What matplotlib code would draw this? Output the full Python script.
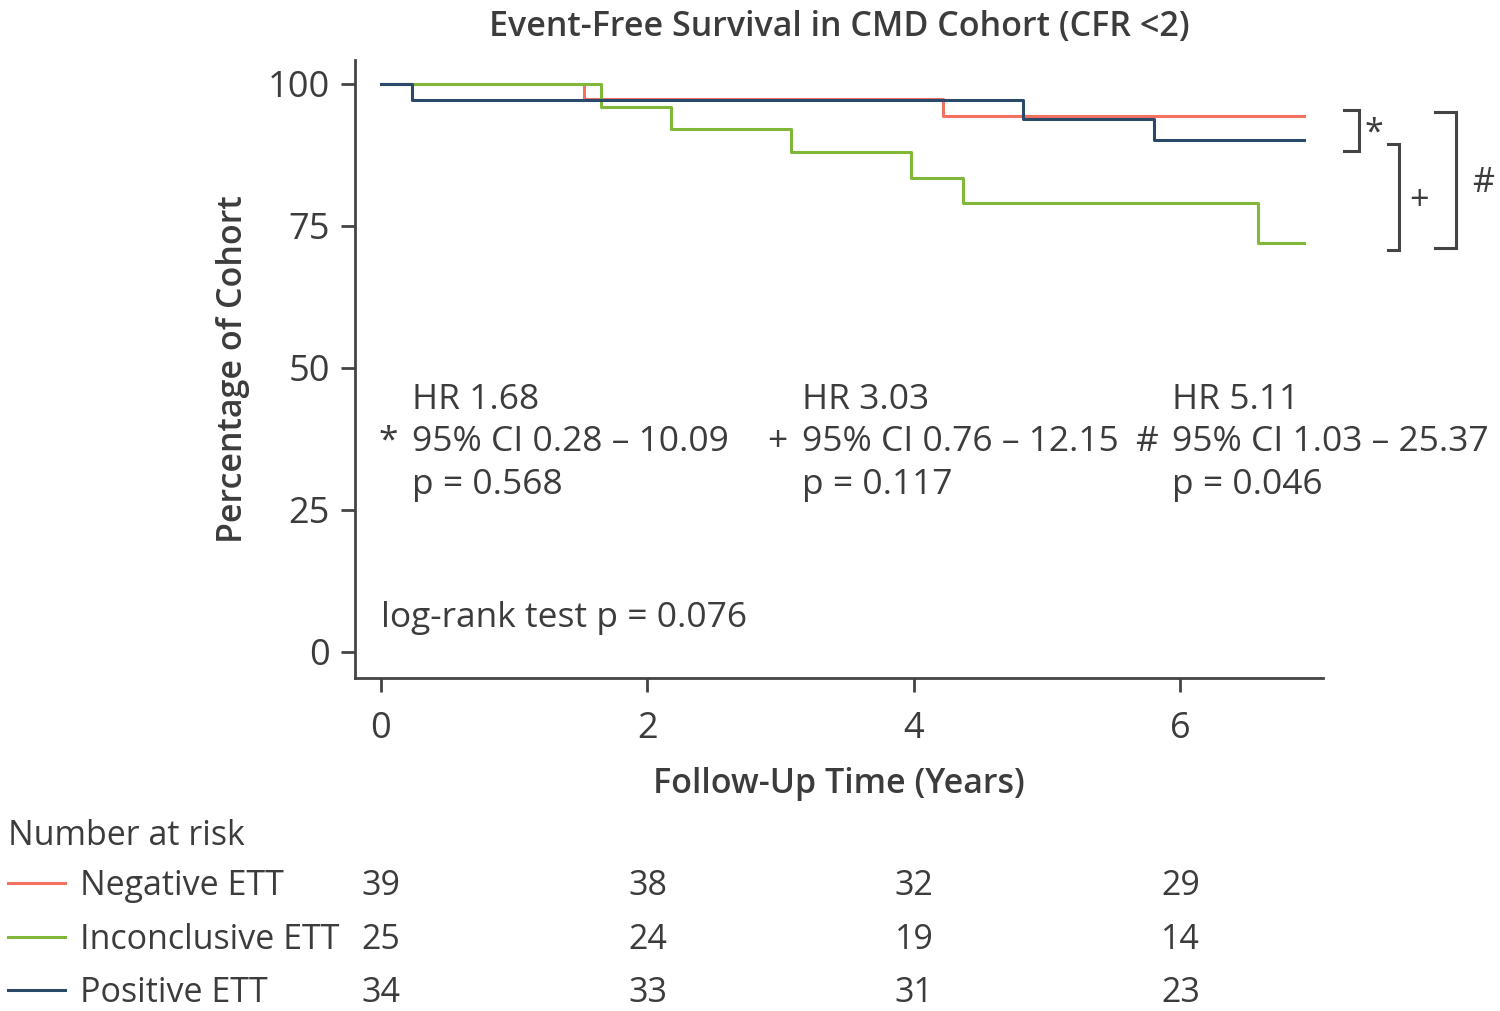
import matplotlib
matplotlib.use("Agg")
import matplotlib.pyplot as plt

plt.rcParams['font.family'] = ['Open Sans', 'DejaVu Sans']

# step curves (time in years, survival %)
neg_t = [0, 1.52, 4.22, 6.93]
neg_s = [100, 97.4, 94.4, 94.4]
inc_t = [0, 1.65, 2.18, 3.08, 3.98, 4.37, 6.58, 6.93]
inc_s = [100, 96.0, 92.0, 88.0, 83.4, 79.0, 72.0, 72.0]
pos_t = [0, 0.23, 4.82, 5.80, 6.93]
pos_s = [100, 97.1, 93.8, 90.2, 90.2]

groups = ['Negative ETT', 'Inconclusive ETT', 'Positive ETT']
colors = ['#f4715f', '#82b83a', '#2b4a6b']
risk_times = [0, 2, 4, 6]
risk_neg = [39, 38, 32, 29]
risk_inc = [25, 24, 19, 14]
risk_pos = [34, 33, 31, 23]

hr_labels = ['HR 1.68', 'HR 3.03', 'HR 5.11']
ci_labels = ['95% CI 0.28 – 10.09', '95% CI 0.76 – 12.15', '95% CI 1.03 – 25.37']
p_labels = ['p = 0.568', 'p = 0.117', 'p = 0.046']
marks = ['*', '+', '#']

txt = '#3c3c3c'
fs = 24.5
fs_hr = 25.5

fig = plt.figure(figsize=(15, 10.11), dpi=100)
ax = fig.add_axes([355/1500, 333/1011, 968/1500, 618/1011])

ax.step(neg_t, neg_s, where='post', color=colors[0], lw=2.2)
ax.step(inc_t, inc_s, where='post', color=colors[1], lw=2.2)
ax.step(pos_t, pos_s, where='post', color=colors[2], lw=2.2)

ax.set_xlim(-0.195, 7.07)
ax.set_ylim(-4.6, 104.2)
ax.set_xticks([0, 2, 4, 6])
ax.set_yticks([0, 25, 50, 75, 100])
for s in ['top', 'right']:
    ax.spines[s].set_visible(False)
for s in ['left', 'bottom']:
    ax.spines[s].set_color('#444444')
    ax.spines[s].set_linewidth(2)
ax.tick_params(length=10, width=2, color='#444444', labelsize=26, labelcolor=txt)
ax.tick_params(axis='x', pad=14)
ax.tick_params(axis='y', pad=8)

ax.set_title('Event-Free Survival in CMD Cohort (CFR <2)', fontsize=fs, color=txt,
             fontweight='semibold', pad=17)
ax.set_ylabel('Percentage of Cohort', fontsize=fs, color=txt, fontweight='semibold', labelpad=13)
ax.set_xlabel('Follow-Up Time (Years)', fontsize=fs, color=txt, fontweight='semibold', labelpad=14)

# HR annotations
hr_x = [0.235, 3.16, 5.94]
for i in range(3):
    ax.text(hr_x[i], 44.3, hr_labels[i], fontsize=fs_hr, color=txt, va='center')
    ax.text(hr_x[i], 37.0, ci_labels[i], fontsize=fs_hr, color=txt, va='center')
    ax.text(hr_x[i], 29.3, p_labels[i], fontsize=fs_hr, color=txt, va='center')
    ax.text(hr_x[i] - 0.11, 37.0, marks[i], fontsize=fs_hr, color=txt, va='center', ha='right')

ax.text(0.0, 5.9, 'log-rank test p = 0.076', fontsize=fs_hr, color=txt, va='center')

# brackets to the right
def bracket(x0, x1, y0, y1, mark, mx, my):
    ax.plot([x0, x1, x1, x0], [y0, y0, y1, y1], color='#444444', lw=2.2,
            clip_on=False, solid_joinstyle='miter')
    ax.text(mx, my, mark, fontsize=fs, color=txt, ha='center', va='center')

bracket(7.23, 7.34, 95.4, 88.1, '*', 7.45, 91.3)
bracket(7.56, 7.64, 89.4, 70.8, '+', 7.79, 79.4)
bracket(7.91, 8.07, 95.1, 71.1, '#', 8.27, 82.6)

# number at risk table
fig.text(8/1500, 1 - 836/1011, 'Number at risk', fontsize=fs, color=txt, va='center')
rows = [risk_neg, risk_inc, risk_pos]
row_y = [886, 940, 993]
for i in range(3):
    yf = 1 - row_y[i]/1011
    fig.add_artist(plt.Line2D([8/1500, 65/1500], [yf + 3/1011, yf + 3/1011], color=colors[i], lw=2.2))
    fig.text(80/1500, yf, groups[i], fontsize=fs, color=txt, va='center')
    for t, n in zip(risk_times, rows[i]):
        xf = ax.transData.transform((t, 0))[0] / fig.bbox.width
        fig.text(xf, yf, str(n), fontsize=fs, color=txt, va='center', ha='center')

fig.savefig('out.png', dpi=100)
